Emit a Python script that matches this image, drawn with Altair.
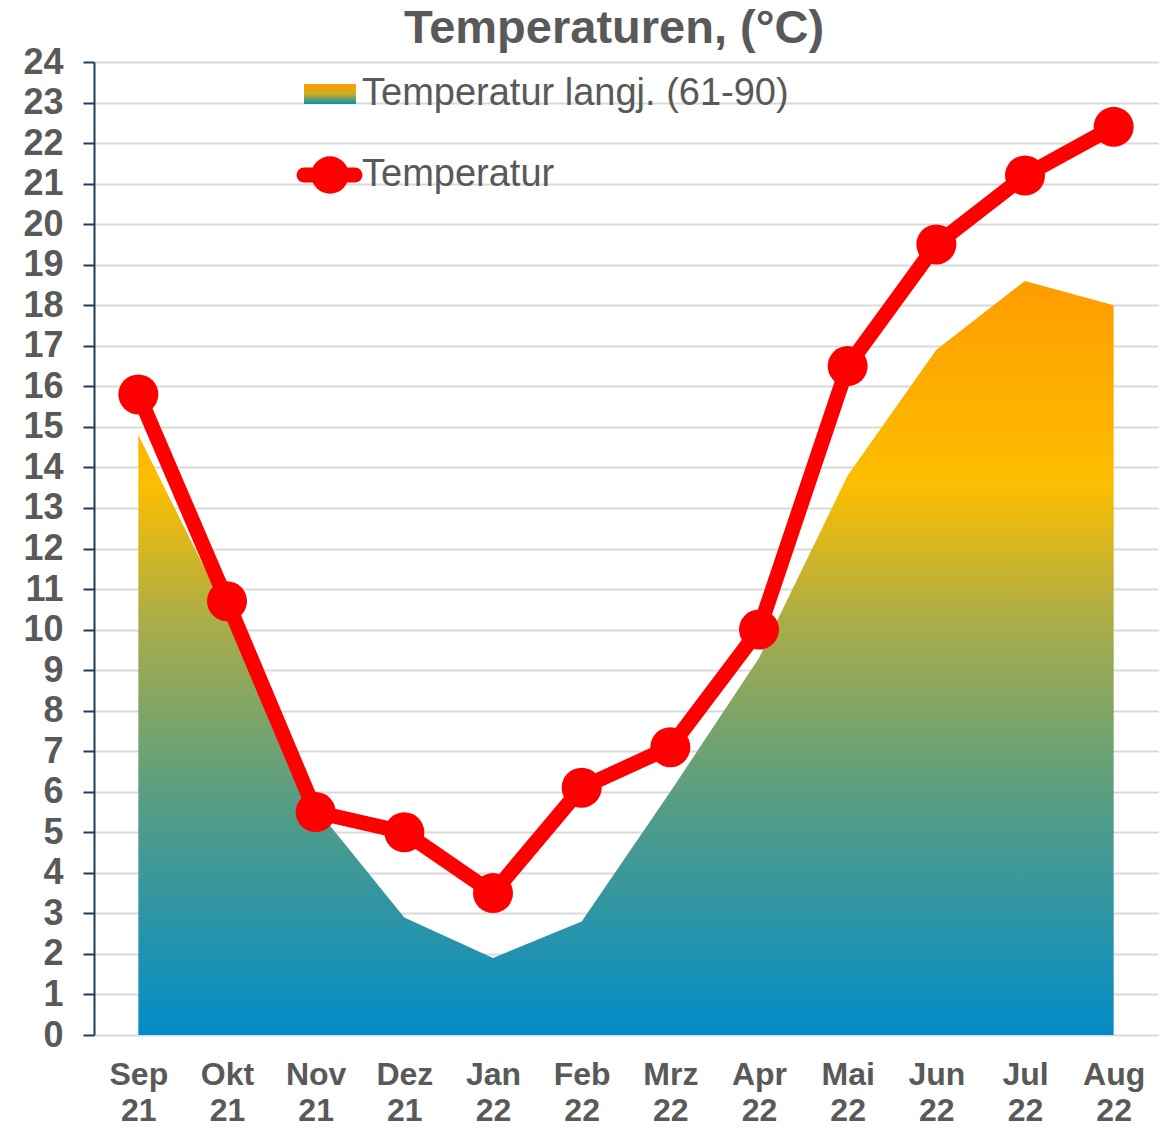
import altair as alt
import pandas as pd

months = ["Sep 21", "Okt 21", "Nov 21", "Dez 21", "Jan 22", "Feb 22",
          "Mrz 22", "Apr 22", "Mai 22", "Jun 22", "Jul 22", "Aug 22"]
temperatur = [15.8, 10.7, 5.5, 5.0, 3.5, 6.1, 7.1, 10.0, 16.5, 19.5, 21.2, 22.4]
langjaehrig = [14.8, 10.4, 5.6, 2.9, 1.9, 2.8, 6.0, 9.3, 13.8, 16.9, 18.6, 18.0]
y_ticks = [i / 2 for i in range(0, 49)]
legend_labels = ["Temperatur langj. (61-90)", "Temperatur"]

df = pd.DataFrame({"Monat": months, "Temperatur": temperatur, "Langj": langjaehrig})

GREY = "#595959"
RED = "#ff0000"
FONT = "Liberation Sans"

area_grad = alt.LinearGradient(
    gradient="linear", x1=0, y1=1, x2=0, y2=0,
    stops=[
        alt.GradientStop(offset=0.0, color="#038cc8"),
        alt.GradientStop(offset=0.3, color="#539d86"),
        alt.GradientStop(offset=0.55, color="#aaad48"),
        alt.GradientStop(offset=0.73, color="#fcbe00"),
        alt.GradientStop(offset=1.0, color="#ff9c00"),
    ],
)
legend_grad = alt.LinearGradient(
    gradient="linear", x1=0, y1=1, x2=0, y2=0,
    stops=[
        alt.GradientStop(offset=0.0, color="#0a8cb8"),
        alt.GradientStop(offset=0.5, color="#c8b020"),
        alt.GradientStop(offset=1.0, color="#ff9c00"),
    ],
)

x_enc = alt.X(
    "Monat:O", sort=months, title=None,
    scale=alt.Scale(type="point", padding=0.5),
    axis=alt.Axis(
        labelExpr="split(datum.label, ' ')",
        labelAngle=0, labelFont=FONT, labelFontSize=32, labelFontWeight="bold",
        labelColor=GREY, labelLineHeight=36, labelPadding=24, labelBaseline="top",
        ticks=False, domain=False, grid=False,
    ),
)
y_scale = alt.Scale(domain=[0, 24], nice=False, zero=True)
y_axis = alt.Axis(
    values=y_ticks,
    labelExpr="datum.value % 1 ? '' : '' + datum.value",
    labelFont=FONT, labelFontSize=36, labelFontWeight="bold", labelColor=GREY,
    labelPadding=20,
    tickSize={"condition": {"test": "datum.value % 1 !== 0", "value": 8}, "value": 11},
    tickColor="#1f3c5c", tickWidth=2,
    domainColor="#1f3c5c", domainWidth=2,
    grid=True, gridColor="#d9d9d9", gridWidth=2,
    gridOpacity={"condition": {"test": "datum.value % 1 !== 0", "value": 0}, "value": 1},
    title=None,
)

base = alt.Chart(df)

area = base.mark_area(fill=area_grad, opacity=1).encode(
    x=x_enc,
    y=alt.Y("Langj:Q", scale=y_scale, axis=y_axis),
)
line = base.mark_line(color=RED, strokeWidth=15, strokeJoin="round").encode(
    x=alt.X("Monat:O", sort=months),
    y=alt.Y("Temperatur:Q"),
)
points = base.mark_circle(color=RED, size=1600, opacity=1).encode(
    x=alt.X("Monat:O", sort=months),
    y=alt.Y("Temperatur:Q"),
)

legend_df = pd.DataFrame({"label": legend_labels})
leg = alt.Chart(legend_df)
leg_rect = leg.transform_filter(alt.datum.label == legend_labels[0]).mark_rect(
    fill=legend_grad
).encode(x=alt.value(210), x2=alt.value(262), y=alt.value(22), y2=alt.value(42))
leg_line = leg.transform_filter(alt.datum.label == legend_labels[1]).mark_rule(
    color=RED, strokeWidth=15, strokeCap="round"
).encode(x=alt.value(210), x2=alt.value(261), y=alt.value(113))
leg_dot = leg.transform_filter(alt.datum.label == legend_labels[1]).mark_circle(
    color=RED, size=1400, opacity=1
).encode(x=alt.value(236), y=alt.value(113))
leg_text1 = leg.transform_filter(alt.datum.label == legend_labels[0]).mark_text(
    align="left", baseline="middle", font=FONT, fontSize=38, color=GREY
).encode(x=alt.value(268), y=alt.value(32), text="label:N")
leg_text2 = leg.transform_filter(alt.datum.label == legend_labels[1]).mark_text(
    align="left", baseline="middle", font=FONT, fontSize=38, color=GREY
).encode(x=alt.value(268), y=alt.value(113), text="label:N")

chart = alt.layer(
    area, line, points, leg_rect, leg_line, leg_dot, leg_text1, leg_text2
).properties(
    width=1064, height=973,
    title=alt.TitleParams(
        "Temperaturen, (°C)", font=FONT, fontSize=47, fontWeight="bold",
        color=GREY, anchor="middle", dx=-12, dy=17, offset=8,
    ),
    autosize=alt.AutoSizeParams(type="none"),
    padding={"left": 86, "top": 54, "right": 10, "bottom": 98},
).configure_view(stroke=None)

chart.save("out.html", embed_options={"renderer": "svg", "actions": False})
